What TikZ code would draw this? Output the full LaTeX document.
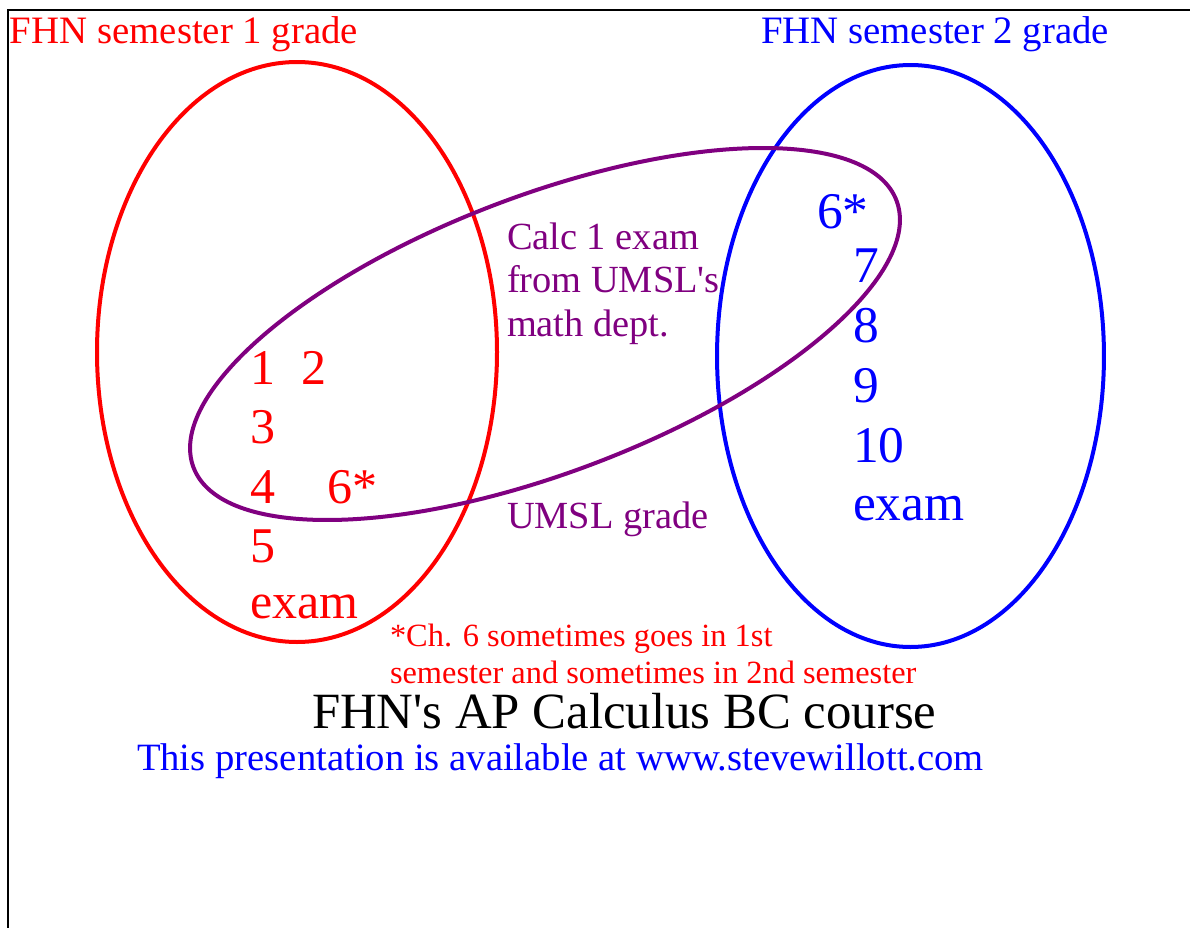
\documentclass[tikz,border=0pt]{standalone}
\usepackage{fontspec}
\setmainfont{Liberation Serif}
\definecolor{fred}{RGB}{255,0,0}
\definecolor{fblue}{RGB}{0,0,255}
\definecolor{upurple}{RGB}{128,0,128}
\tikzset{
  lbl/.style={anchor=base west, inner sep=0pt, outer sep=0pt},
  head/.style={lbl, font=\fontsize{29.1}{34}\selectfont},
  num/.style={lbl, font=\fontsize{37.5}{44}\selectfont},
  bnum/.style={lbl, text=fblue, font=\fontsize{38.6}{44}\selectfont},
  ptext/.style={lbl, text=upurple, font=\fontsize{28.8}{33}\selectfont},
  note/.style={lbl, text=fred, font=\fontsize{24.3}{28}\selectfont},
  ring/.style={line width=3pt},
}
\begin{document}
\begin{tikzpicture}[x=0.75pt,y=-0.75pt]
\useasboundingbox (0,0) rectangle (1190,928);
% frame
\draw[line width=2pt] (8,928) -- (8,10) -- (1190,10);
% ellipses
\draw[ring, fred] (297,352) ellipse [x radius=150pt, y radius=217.5pt];
\draw[ring, fblue] (910.5,356) ellipse [x radius=145.1pt, y radius=218.25pt];
\draw[ring, upurple, rotate around={20.8:(545,334)}] (545,334) ellipse [x radius=282pt, y radius=103.9pt];
% headers
\node[head, text=fred] (h1) at (10,43) {FHN semester 1 grade};
\node[head, text=fblue] (h2) at (761,43) {FHN semester 2 grade};
% red chapters
\node[num, text=fred] (r1) at (250,384) {1};
\node[num, text=fred] (r2) at (301,384) {2};
\node[num, text=fred] (r3) at (250,443) {3};
\node[num, text=fred] (r4) at (250,503) {4};
\node[num, text=fred] (r6) at (327,503) {6*};
\node[num, text=fred] (r5) at (250,562) {5};
\node[num, text=fred] (rexam) at (250,618) {exam};
% blue chapters
\node[bnum] (b6) at (817,228) {6*};
\node[bnum] (b7) at (853,282) {7};
\node[bnum] (b8) at (853,342) {8};
\node[bnum] (b9) at (853,402) {9};
\node[bnum] (b10) at (853,462) {10};
\node[bnum] (bexam) at (853,520) {exam};
% purple texts
\node[ptext] (p1) at (507,249) {Calc 1 exam};
\node[ptext] (p2) at (507,292) {from UMSL\textquotesingle s};
\node[ptext] (p3) at (507,336) {math dept.};
\node[ptext] (pg) at (507,528) {UMSL grade};
% footnote
\node[note] (n1) at (390,646) {*Ch. 6 sometimes goes in 1st};
\node[note] (n2) at (390,683) {semester and sometimes in 2nd semester};
% title
\node[lbl, font=\fontsize{38.1}{44}\selectfont] (title) at (312,728) {FHN\textquotesingle s AP Calculus BC course};
\node[lbl, text=fblue, font=\fontsize{29}{34}\selectfont] (url) at (137,770) {This presentation is available at www.stevewillott.com};
\end{tikzpicture}
\end{document}
